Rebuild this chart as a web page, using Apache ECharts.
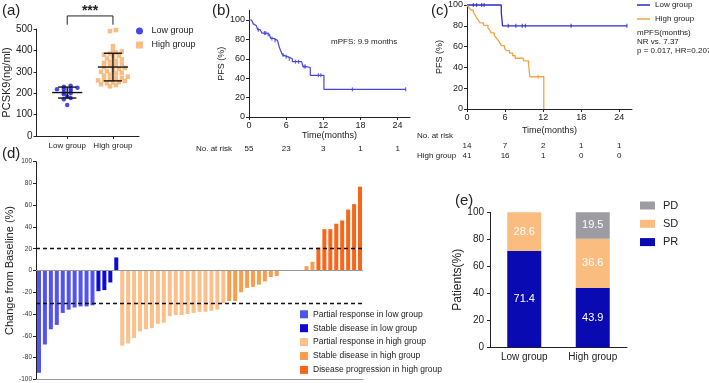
<!DOCTYPE html>
<html><head><meta charset="utf-8">
<script src="https://cdn.jsdelivr.net/npm/echarts@6/dist/echarts.min.js"></script>
<style>html,body{margin:0;padding:0;background:#fff}#c{width:709px;height:383px}</style>
</head><body><div id="c"></div>
<script>
const FF = 'Liberation Sans, Arial, Helvetica, sans-serif';
// ---- (a) PCSK9 scatter ----
const scatterCats = ['Low group', 'High group'];
const pcskLow = [235, 230, 225, 222, 220, 218, 212, 205, 200, 195, 185, 178, 172, 145];
const pcskHigh = [495, 490, 420, 400, 395, 390, 385, 380, 375, 372, 362, 358, 352, 348, 342, 338, 333, 328, 322, 318,
  312, 308, 304, 300, 296, 292, 287, 282, 277, 272, 270, 266, 262, 260, 257, 252, 250, 246, 242, 238, 232];
// ---- (b) overall PFS ----
const pfsAllSteps = [[0,100],[0.4,98],[0.7,96],[1.0,94],[1.2,92],[1.4,90],[1.8,88],[2.1,86.5],[2.9,85],[3.3,83],[3.5,81],
  [4.0,79],[4.6,77],[4.8,74],[5.0,70],[5.2,67],[5.4,64],[5.7,62],[6.3,60],[7.0,57],[8.5,55],[8.7,52],[9.2,51],[9.9,43],[12.1,28.5],[25.3,28.5]];
const pfsAllCensor = [1.5, 2.5, 2.7, 3.1, 3.7, 4.2, 5.5, 6.0, 6.5, 7.5, 8.0, 8.9, 9.1, 11.2, 11.6, 16.7, 25.3];
const riskTimes = [0, 6, 12, 18, 24];
const riskAll = [55, 23, 3, 1, 1];
// ---- (c) PFS by group ----
const pfsLowSteps = [[0,100],[5.4,92.9],[5.6,80],[25.2,80]];
const pfsLowCensor = [1.0, 1.5, 2.3, 2.7, 6.5, 7.7, 8.7, 9.2, 16.4, 25.2];
const pfsHighSteps = [[0,100],[0.3,97.6],[0.6,95.1],[1.0,92.7],[1.3,90.2],[1.5,87.8],[1.8,85.4],[2.0,82.9],[2.6,80.5],[3.3,78.0],
  [3.6,75.6],[3.8,73.2],[4.3,70.7],[4.6,68.3],[4.9,65.9],[5.2,63.4],[5.4,61.0],[5.9,58.5],[6.2,56.1],[6.7,53.7],[7.2,51.2],[7.6,48.8],
  [8.9,46.3],[9.7,42.5],[9.9,31.0],[12.1,0]];
const pfsHighCensor = [11.2];
const riskLow = [14, 7, 2, 1, 1];
const riskHigh = [41, 16, 1, 0, 0];
// ---- (d) waterfall ----
const wfPrLow = [-94, -68, -54, -50, -39, -36, -34, -33, -33, -32];
const wfSdLow = [-19, -18, -11, 12];
const wfPrHigh = [-69, -67, -62, -56, -54, -53, -49, -48, -42, -41, -41, -40, -39, -38, -38, -37, -36, -30];
const wfSdHigh = [-28, -28, -20, -16, -15, -13, -10, -6, -5, 0, 0, 0, 0, 4, 8];
const wfPdHigh = [21, 38, 38, 43, 46, 56, 61, 77];
const wfNames = ['Partial response in low group', 'Stable disease in low group', 'Partial response in high group',
  'Stable disease in high group', 'Disease progression in high group'];
// ---- (e) response ----
const respCats = ['Low group', 'High group'];
const respPR = [71.4, 43.9];
const respSD = [28.6, 36.6];
const respPD = [null, 19.5];

// helpers
function swarm(vals, center, bin, spacing) {
  const groups = {};
  vals.slice().sort((a, b) => a - b).forEach(v => { const k = Math.floor(v / bin); (groups[k] = groups[k] || []).push(v); });
  const out = [];
  Object.values(groups).forEach(g => { const n = g.length; g.forEach((v, j) => out.push([center + (j - (n - 1) / 2) * spacing, v])); });
  return out;
}
function mean(a) { return a.reduce((s, v) => s + v, 0) / a.length; }
function sd(a) { const m = mean(a); return Math.sqrt(a.reduce((s, v) => s + (v - m) * (v - m), 0) / (a.length - 1)); }
function survAt(steps, t) { let v = steps[0][1]; steps.forEach(s => { if (s[0] <= t) v = s[1]; }); return v; }

const axLine = { show: true, onZero: false, lineStyle: { color: '#222', width: 1 } };
const axTick = { show: true, length: 3, lineStyle: { color: '#222', width: 1 } };
function lbl(size, margin, extra) { return Object.assign({ color: '#222', fontSize: size, fontFamily: FF, margin: margin }, extra || {}); }
const nameTS = (s) => ({ color: '#222', fontSize: s, fontFamily: FF });
const hidden = { show: false };

// waterfall series data
const wfAll = [wfPrLow, wfSdLow, wfPrHigh, wfSdHigh, wfPdHigh];
const wfCount = wfAll.reduce((s, a) => s + a.length, 0);
const wfCats = Array.from({ length: wfCount }, (_, i) => String(i + 1));
const wfColors = ['#5353ee', '#0b0bd2', '#fdc08a', '#f99e4c', '#f9661a'];
let off = 0;
const wfSeries = wfAll.map((arr, k) => {
  const d = new Array(wfCount).fill('-');
  arr.forEach((v, i) => d[off + i] = v);
  off += arr.length;
  const s = { type: 'bar', name: wfNames[k], xAxisIndex: 5, yAxisIndex: 5, stack: 'wf', barWidth: 4, data: d,
    itemStyle: { color: wfColors[k] } };
  if (k === 0) {
    s.markLine = { silent: true, symbol: 'none', label: { show: false }, animation: false,
      data: [
        { yAxis: 0, lineStyle: { type: 'solid', color: '#999', width: 1 } },
        { yAxis: 20, lineStyle: { type: [4, 3], color: '#111', width: 1.3 } },
        { yAxis: -30, lineStyle: { type: [4, 3], color: '#111', width: 1.3 } }
      ] };
  }
  return s;
});

const riskText = (xi, rows) => ({
  type: 'custom', xAxisIndex: xi, yAxisIndex: xi, silent: true, clip: false, data: rows,
  renderItem: (p, api) => {
    const pt = api.coord([api.value(0), api.value(1)]);
    return { type: 'text', x: pt[0], y: pt[1], style: { text: String(api.value(2)), fontSize: 8, fontFamily: FF, fill: '#222', align: 'center', verticalAlign: 'middle' } };
  }
});

const option = {
  animation: false,
  backgroundColor: '#fff',
  textStyle: { fontFamily: FF },
  grid: [
    { left: 36, top: 29, width: 103, height: 107 },      // a
    { left: 249, top: 10.3, width: 161, height: 106.7 }, // b
    { left: 249, top: 144, width: 161, height: 10 },     // b risk
    { left: 467, top: 5, width: 165, height: 104 },      // c
    { left: 467, top: 131, width: 165, height: 30 },     // c risk
    { left: 36, top: 161.7, width: 327, height: 217.6 }, // d
    { left: 490, top: 212.3, width: 137, height: 135 }   // e
  ],
  xAxis: [
    { gridIndex: 0, type: 'value', min: 0.33, max: 2.57, axisLine: axLine, axisTick: Object.assign({}, axTick, { customValues: [1, 2] }),
      axisLabel: lbl(8, 6, { customValues: [1, 2], formatter: v => scatterCats[Math.round(v) - 1] }), splitLine: hidden },
    { gridIndex: 1, type: 'value', min: 0, max: 26, axisLine: axLine, axisTick: Object.assign({}, axTick, { customValues: riskTimes }),
      axisLabel: lbl(9, 4, { customValues: riskTimes }), splitLine: hidden,
      name: 'Time(months)', nameLocation: 'middle', nameGap: 14, nameTextStyle: nameTS(9) },
    { gridIndex: 2, type: 'value', min: 0, max: 26, show: false },
    { gridIndex: 3, type: 'value', min: 0, max: 26, axisLine: axLine, axisTick: Object.assign({}, axTick, { customValues: riskTimes }),
      axisLabel: lbl(9, 4, { customValues: riskTimes }), splitLine: hidden,
      name: 'Time(months)', nameLocation: 'middle', nameGap: 17, nameTextStyle: nameTS(9) },
    { gridIndex: 4, type: 'value', min: 0, max: 26, show: false },
    { gridIndex: 5, type: 'category', data: wfCats, axisLine: { show: true, onZero: false, lineStyle: { color: '#999', width: 1 } },
      axisTick: hidden, axisLabel: hidden, splitLine: hidden },
    { gridIndex: 6, type: 'category', data: respCats, axisLine: axLine, axisTick: hidden, axisLabel: lbl(10, 5), splitLine: hidden }
  ],
  yAxis: [
    { gridIndex: 0, type: 'value', min: 0, max: 500, interval: 100, axisLine: axLine, axisTick: axTick, axisLabel: lbl(10, 4), splitLine: hidden,
      name: 'PCSK9(ng/ml)', nameLocation: 'middle', nameGap: 20, nameTextStyle: nameTS(11) },
    { gridIndex: 1, type: 'value', min: 0, max: 110, axisLine: axLine,
      axisTick: Object.assign({}, axTick, { customValues: [0, 20, 40, 60, 80, 100] }),
      axisLabel: lbl(9, 4, { customValues: [0, 20, 40, 60, 80, 100] }), splitLine: hidden,
      name: 'PFS (%)', nameLocation: 'middle', nameGap: 13, nameTextStyle: nameTS(9) },
    { gridIndex: 2, type: 'category', data: ['No. at risk'], axisLine: hidden, axisTick: hidden,
      axisLabel: lbl(8, 17, { align: 'right' }), splitLine: hidden },
    { gridIndex: 3, type: 'value', min: 0, max: 100, interval: 20, axisLine: axLine, axisTick: axTick, axisLabel: lbl(9, 4), splitLine: hidden,
      name: 'PFS (%)', nameLocation: 'middle', nameGap: 15, nameTextStyle: nameTS(9) },
    { gridIndex: 4, type: 'category', inverse: true, data: ['No. at risk', 'Low group', 'High group'], axisLine: hidden, axisTick: hidden,
      axisLabel: lbl(8, 50, { align: 'left' }), splitLine: hidden },
    { gridIndex: 5, type: 'value', min: -100, max: 100, interval: 20, axisLine: axLine, axisTick: axTick,
      axisLabel: lbl(6.5, 4, { color: '#333' }), splitLine: hidden,
      name: 'Change from Baseline (%)', nameLocation: 'middle', nameGap: 15, nameTextStyle: nameTS(11) },
    { gridIndex: 6, type: 'value', min: 0, max: 100, interval: 20, axisLine: axLine, axisTick: axTick, axisLabel: lbl(10, 6), splitLine: hidden,
      name: 'Patients(%)', nameLocation: 'middle', nameGap: 21, nameTextStyle: nameTS(12) }
  ],
  legend: [
    { left: 136, top: 26.5, orient: 'vertical', padding: 0, itemGap: 5, itemWidth: 14, itemHeight: 7, selectedMode: false,
      textStyle: { fontSize: 9, fontFamily: FF, color: '#222' },
      data: [{ name: 'Low group', icon: 'circle' }, { name: 'High group', icon: 'path://M0,0h10v10h-10z' }] },
    { left: 637, top: 1, orient: 'vertical', padding: 0, itemGap: 6, itemWidth: 13, itemHeight: 1.5, icon: 'rect', selectedMode: false,
      textStyle: { fontSize: 8, fontFamily: FF, color: '#222' }, data: ['Low group ', 'High group '] },
    { left: 300, top: 309.8, orient: 'vertical', padding: 0, itemGap: 4.9, itemWidth: 8, itemHeight: 8, icon: 'rect', selectedMode: false,
      textStyle: { fontSize: 8.5, fontFamily: FF, color: '#222' }, data: wfNames },
    { left: 640, top: 200, orient: 'vertical', padding: 0, itemGap: 7.3, itemWidth: 15, itemHeight: 8, icon: 'rect', selectedMode: false,
      textStyle: { fontSize: 11, fontFamily: FF, color: '#222', padding: [0, 0, 0, 3] }, data: ['PD', 'SD', 'PR'] }
  ],
  graphic: [
    { type: 'text', left: 2, top: 3, style: { text: '(a)', fontSize: 15, fontFamily: FF, fill: '#222' } },
    { type: 'text', left: 212, top: 3, style: { text: '(b)', fontSize: 15, fontFamily: FF, fill: '#222' } },
    { type: 'text', left: 431, top: 3, style: { text: '(c)', fontSize: 15, fontFamily: FF, fill: '#222' } },
    { type: 'text', left: 2, top: 146, style: { text: '(d)', fontSize: 15, fontFamily: FF, fill: '#222' } },
    { type: 'text', left: 455, top: 193, style: { text: '(e)', fontSize: 15, fontFamily: FF, fill: '#222' } },
    { type: 'text', left: 331, top: 38, style: { text: 'mPFS: 9.9 months', fontSize: 8, fontFamily: FF, fill: '#222' } },
    { type: 'text', left: 637, top: 28, style: { text: 'mPFS(months)\nNR vs. 7.37\np = 0.017, HR=0.207', fontSize: 8, lineHeight: 9, fontFamily: FF, fill: '#222' } }
  ],
  series: [
    // (a)
    { type: 'scatter', name: 'Low group', xAxisIndex: 0, yAxisIndex: 0, symbol: 'circle', symbolSize: 4.5,
      itemStyle: { color: '#1c1cd8' }, data: swarm(pcskLow, 1, 12, 0.15) },
    { type: 'scatter', name: 'High group', xAxisIndex: 0, yAxisIndex: 0, symbol: 'rect', symbolSize: 4.5,
      itemStyle: { color: '#f8b676', opacity: 0.9 }, data: swarm(pcskHigh, 2, 20, 0.13) },
    { type: 'custom', xAxisIndex: 0, yAxisIndex: 0, silent: true, clip: false, z: 5,
      data: [[1, mean(pcskLow), sd(pcskLow)], [2, mean(pcskHigh), sd(pcskHigh)]],
      renderItem: (p, api) => {
        const x = api.value(0), m = api.value(1), s = api.value(2);
        const st = { stroke: '#111', lineWidth: 1.4, fill: null };
        const L = (a, b) => ({ type: 'line', shape: { x1: a[0], y1: a[1], x2: b[0], y2: b[1] }, style: st });
        return { type: 'group', children: [
          L(api.coord([x - 0.33, m]), api.coord([x + 0.33, m])),
          L(api.coord([x, m - s]), api.coord([x, m + s])),
          L(api.coord([x - 0.2, m - s]), api.coord([x + 0.2, m - s])),
          L(api.coord([x - 0.2, m + s]), api.coord([x + 0.2, m + s]))
        ] };
      } },
    { type: 'custom', xAxisIndex: 0, yAxisIndex: 0, silent: true, clip: false, data: [[1, 2]],
      renderItem: (p, api) => {
        const a = api.coord([1, 520]), b = api.coord([1, 561]), c = api.coord([2, 561]), d = api.coord([2, 520]);
        return { type: 'group', children: [
          { type: 'polyline', shape: { points: [a, b, c, d] }, style: { stroke: '#222', lineWidth: 1, fill: null } },
          { type: 'text', x: (b[0] + c[0]) / 2, y: b[1] - 5, style: { text: '***', fontSize: 14, fontWeight: 'bold', fontFamily: FF, fill: '#222', align: 'center', verticalAlign: 'middle' } }
        ] };
      } },
    // (b)
    { type: 'line', name: 'PFS', xAxisIndex: 1, yAxisIndex: 1, step: 'end', symbol: 'none', clip: false,
      lineStyle: { color: '#4646e2', width: 1.2 }, data: pfsAllSteps },
    { type: 'scatter', name: 'censorAll', xAxisIndex: 1, yAxisIndex: 1, symbol: 'rect', symbolSize: [1.2, 4],
      itemStyle: { color: '#4646e2' }, data: pfsAllCensor.map(t => [t, survAt(pfsAllSteps, t)]) },
    riskText(2, riskTimes.map((t, i) => [t, 0, riskAll[i]])),
    // (c)
    { type: 'line', name: 'Low group ', xAxisIndex: 3, yAxisIndex: 3, step: 'end', symbol: 'none', clip: false,
      lineStyle: { color: '#2b2bcc', width: 1.3 }, itemStyle: { color: '#2b2bcc' }, data: pfsLowSteps },
    { type: 'line', name: 'High group ', xAxisIndex: 3, yAxisIndex: 3, step: 'end', symbol: 'none', clip: false,
      lineStyle: { color: '#f5a343', width: 1.3 }, itemStyle: { color: '#f5a343' }, data: pfsHighSteps },
    { type: 'scatter', name: 'censorLow', xAxisIndex: 3, yAxisIndex: 3, symbol: 'rect', symbolSize: [1.2, 4], clip: false,
      itemStyle: { color: '#2b2bcc' }, data: pfsLowCensor.map(t => [t, survAt(pfsLowSteps, t)]) },
    { type: 'scatter', name: 'censorHigh', xAxisIndex: 3, yAxisIndex: 3, symbol: 'rect', symbolSize: [1.2, 4],
      itemStyle: { color: '#f5a343' }, data: pfsHighCensor.map(t => [t, survAt(pfsHighSteps, t)]) },
    riskText(4, riskTimes.map((t, i) => [t, 1, riskLow[i]]).concat(riskTimes.map((t, i) => [t, 2, riskHigh[i]]))),
    // (d)
    ...wfSeries,
    // (e)
    { type: 'bar', name: 'PR', xAxisIndex: 6, yAxisIndex: 6, stack: 'r', barWidth: 34, data: respPR, itemStyle: { color: '#0a0ab2' },
      label: { show: true, position: 'inside', color: '#fff', fontSize: 11, fontFamily: FF } },
    { type: 'bar', name: 'SD', xAxisIndex: 6, yAxisIndex: 6, stack: 'r', barWidth: 34, data: respSD, itemStyle: { color: '#fbbc80' },
      label: { show: true, position: 'inside', color: '#fff', fontSize: 11, fontFamily: FF } },
    { type: 'bar', name: 'PD', xAxisIndex: 6, yAxisIndex: 6, stack: 'r', barWidth: 34, data: respPD, itemStyle: { color: '#9c9ca2' },
      label: { show: true, position: 'inside', color: '#fff', fontSize: 11, fontFamily: FF } }
  ]
};
const chart = echarts.init(document.getElementById('c'), null, { renderer: 'canvas', width: 709, height: 383 });
chart.setOption(option);
</script></body></html>
